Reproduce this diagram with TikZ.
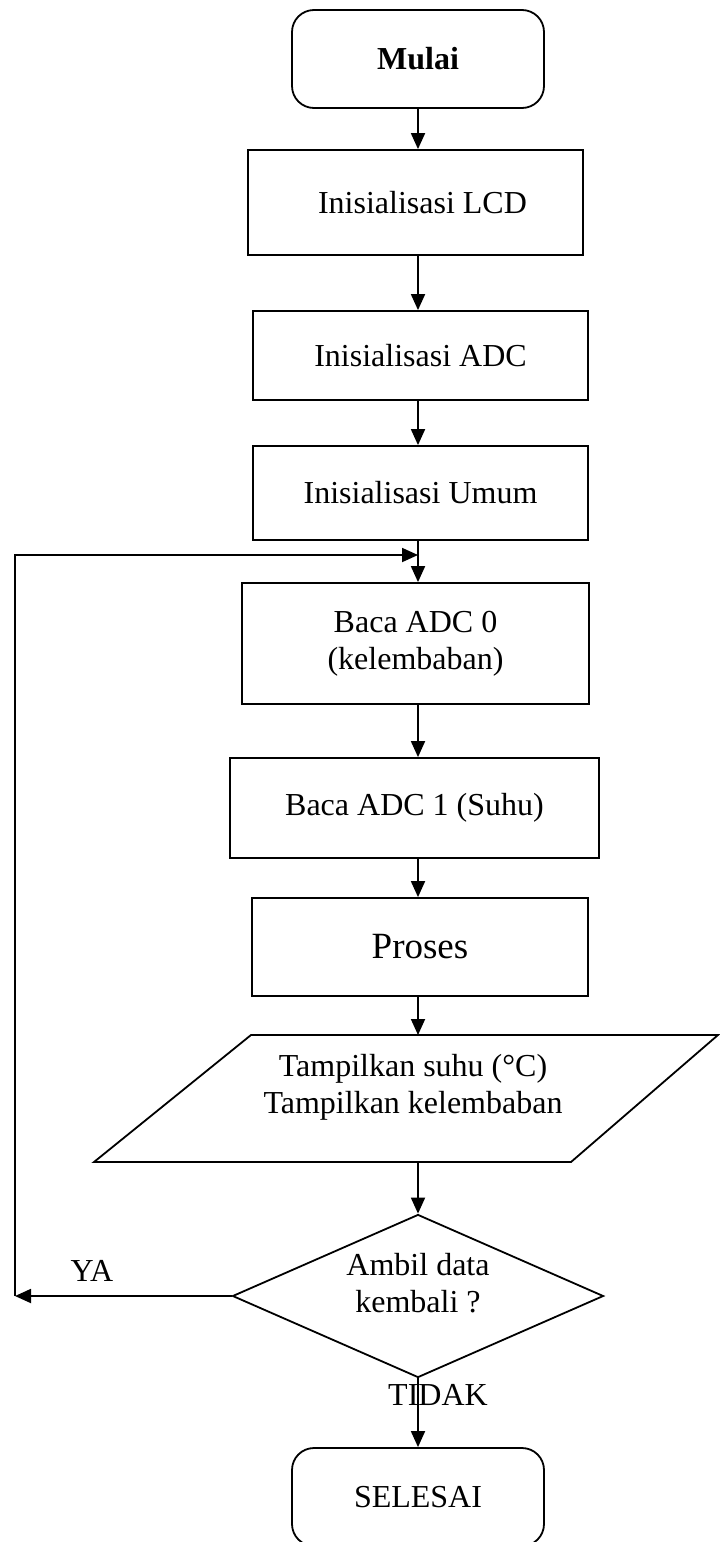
\documentclass[tikz,border=0pt]{standalone}
\usepackage{fontspec}
\setmainfont{Liberation Serif}
\usetikzlibrary{shapes.geometric,arrows.meta}

\begin{document}
\begin{tikzpicture}[x=1pt, y=-1pt, line width=1.8pt,
    font=\fontsize{32}{37}\selectfont,
    box/.style={draw, rectangle, inner sep=0pt, align=center},
    term/.style={draw, rectangle, rounded corners=22pt, inner sep=0pt, align=center,
        minimum width=252pt, minimum height=98pt},
    arr/.style={-{Triangle[length=16pt, width=14pt]}}]
    \useasboundingbox (0, 0) rectangle (720, 1542);

    \node[term] (mulai) at (418, 59) {\textbf{Mulai}};
    \node[box, minimum width=335pt, minimum height=105pt] (lcd) at (415.5, 202.5) {\hspace*{14pt}Inisialisasi LCD};
    \node[box, minimum width=335pt, minimum height=89pt] (adc) at (420.5, 355.5) {Inisialisasi ADC};
    \node[box, minimum width=335pt, minimum height=94pt] (umum) at (420.5, 493) {Inisialisasi Umum};
    \node[box, minimum width=347pt, minimum height=121pt] (adcnol) at (415.5, 643.5) {Baca ADC 0\\(kelembaban)};
    \node[box, minimum width=369pt, minimum height=100pt] (adcsatu) at (414.5, 808) {Baca ADC 1 (Suhu)};
    \node[box, minimum width=336pt, minimum height=98pt, font=\fontsize{37}{42}\selectfont] (proses) at (420, 947) {Proses};

    \draw (251, 1035) -- (718, 1035) -- (571, 1162) -- (94, 1162) -- cycle;
    \node[align=center] (tampil) at (413, 1087) {Tampilkan suhu (°C)\\Tampilkan kelembaban};
    \coordinate (tampilatas) at (418, 1035);
    \coordinate (tampilbawah) at (418, 1162);

    \node[draw, diamond, inner sep=0pt, aspect=2.28, minimum width=371pt, minimum height=163pt, align=center] (ambil) at (418, 1296) {Ambil data\\kembali ?\\[-10pt]};
    \node[term] (selesai) at (418, 1497) {SELESAI};

    \coordinate (ya) at (15, 1296);
    \coordinate (balik) at (418, 555);
    \node (labelya) at (92, 1271) {YA};
    \node (labeltidak) at (438, 1395) {TIDAK};

    \draw[arr] (mulai.south -| balik) -- (lcd.north -| balik);
    \draw[arr] (lcd.south -| balik) -- (adc.north -| balik);
    \draw[arr] (adc.south -| balik) -- (umum.north -| balik);
    \draw[arr] (umum.south -| balik) -- (adcnol.north -| balik);
    \draw[arr] (adcnol.south -| balik) -- (adcsatu.north -| balik);
    \draw[arr] (adcsatu.south -| balik) -- (proses.north -| balik);
    \draw[arr] (proses.south -| balik) -- (tampilatas);
    \draw[arr] (tampilbawah) -- (ambil.north);
    \draw[arr] (ambil.west) -- (ya);
    \draw[arr] (ya) |- (balik);
    \draw[arr] (ambil.south) -- (selesai.north);

\end{tikzpicture}
\end{document}
